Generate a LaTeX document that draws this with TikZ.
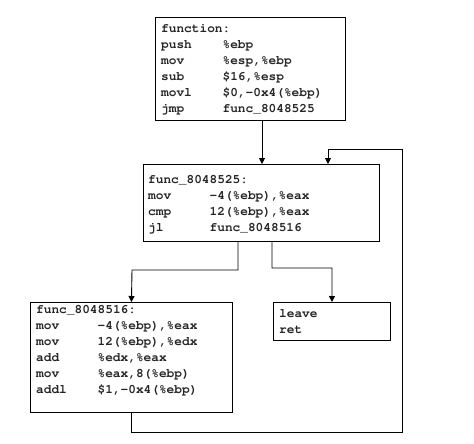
\documentclass[tikz,border=0pt]{standalone}
\usepackage[T1]{fontenc}
\usepackage{fontspec}
\usetikzlibrary{arrows.meta}
\newcommand\ins[2]{\makebox[61.44pt][l]{#1}#2}
\newcommand\codeblock[1]{{\fontencoding{T1}\fontfamily{pcr}\fontseries{b}\fontsize{12.8}{16}\selectfont
  \begin{tabular}[t]{@{}l@{}}#1\end{tabular}}}
\tikzset{
  box/.style={draw=black, line width=0.9pt, inner sep=0pt, anchor=north west},
  code/.style={inner sep=0pt, anchor=base west, text=black!85},
  arr/.style={draw=black, line width=0.9pt, -{Triangle[length=6pt,width=6pt]}},
  link/.style={draw=black, line width=0.9pt}
}
\begin{document}
\begin{tikzpicture}[x=1pt, y=-1pt]
\useasboundingbox (0,0) rectangle (474,444);
% boxes
\node[box, minimum width=190pt, minimum height=103pt] (b1) at (155,17) {};
\node[box, minimum width=236pt, minimum height=77pt]  (b2) at (143,164) {};
\node[box, minimum width=202pt, minimum height=110pt] (b3) at (30,302) {};
\node[box, minimum width=117pt, minimum height=38pt]  (b4) at (273,302) {};
% texts
\node[code] (t1) at (161,32.5) {\codeblock{function:\\
\ins{push}{\%ebp}\\
\ins{mov}{\%esp,\%ebp}\\
\ins{sub}{\$16,\%esp}\\
\ins{movl}{\$0,-0x4(\%ebp)}\\
\ins{jmp}{func\_8048525}}};
\node[code] (t2) at (148,183) {\codeblock{func\_8048525:\\
\ins{mov}{-4(\%ebp),\%eax}\\
\ins{cmp}{12(\%ebp),\%eax}\\
\ins{jl}{func\_8048516}}};
\node[code] (t3) at (36,313) {\codeblock{func\_8048516:\\
\ins{mov}{-4(\%ebp),\%eax}\\
\ins{mov}{12(\%ebp),\%edx}\\
\ins{add}{\%edx,\%eax}\\
\ins{mov}{\%eax,8(\%ebp)}\\
\ins{addl}{\$1,-0x4(\%ebp)}}};
\node[code] (t4) at (279,317) {\codeblock{leave\\ret}};
% helper coordinates
\coordinate (xa) at (262,0);
\coordinate (ba) at (132,270);
\coordinate (bb) at (332,268);
\coordinate (lp1) at (402,432);
\coordinate (lp2) at (328,149);
\coordinate (sa) at (238,0);
\coordinate (sb) at (272,0);
% connectors
\draw[arr] (b1.south -| xa) -- (b2.north -| xa);
\draw[arr] (b2.south -| sa) |- (ba) -- (b3.north);
\draw[arr] (b2.south -| sb) |- (bb) -- (b4.north);
\draw[arr] (b3.south) |- (lp1) |- (lp2) -- (b2.north -| lp2);
\end{tikzpicture}
\end{document}
